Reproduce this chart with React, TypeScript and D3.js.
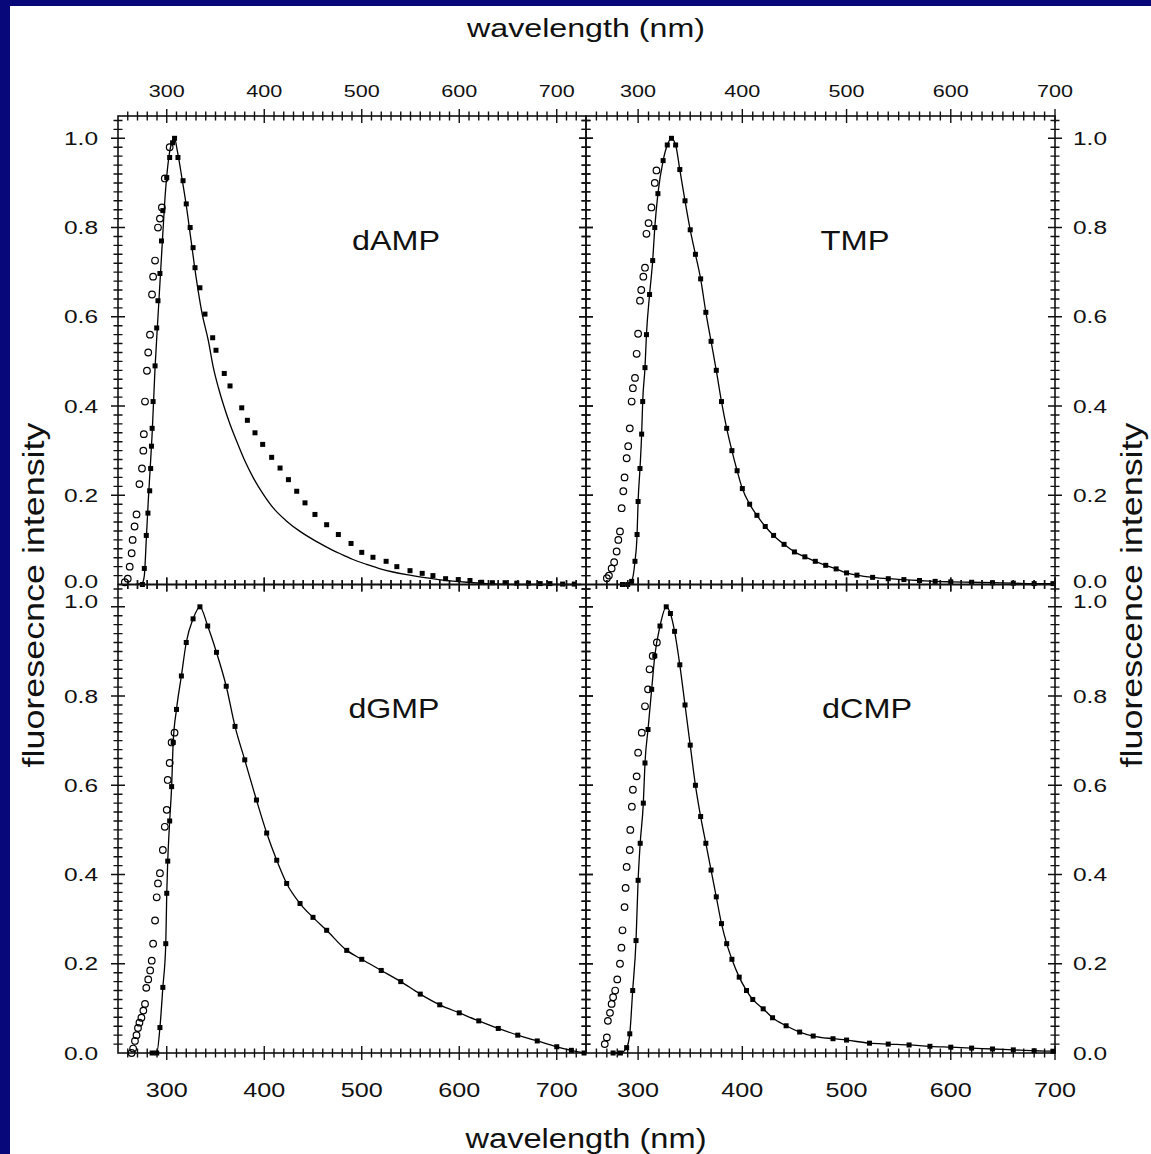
import React from 'react';
import * as d3 from 'd3';

// ---------- data ----------
const panelNames = ['dAMP', 'TMP', 'dGMP', 'dCMP'];
const xTickValues = [300, 400, 500, 600, 700];
const xTickLabels = ['300', '400', '500', '600', '700'];
const yTickValues = [0, 0.2, 0.4, 0.6, 0.8, 1.0];
const yTickLabels = ['0.0', '0.2', '0.4', '0.6', '0.8', '1.0'];
const xAxisTitle = 'wavelength (nm)';
const yAxisTitleLeft = 'fluoresecnce intensity';
const yAxisTitleRight = 'fluorescence intensity';

type P = [number, number];

const dAMPEmission: P[] = [
  [275, 0], [277, 0.036], [279, 0.11], [280.7, 0.16], [282.5, 0.21], [283.5, 0.26], [284.3, 0.31], [285, 0.35],
  [286, 0.41], [288, 0.49], [289.7, 0.575], [291, 0.636], [293, 0.697], [294.6, 0.77], [296, 0.838], [300, 0.912],
  [303, 0.957], [306, 0.99], [308, 1.0], [311.5, 0.957], [316.7, 0.905], [320, 0.853], [324, 0.8], [327, 0.755],
  [329, 0.71], [334, 0.665], [339.2, 0.606], [347.1, 0.553], [350.5, 0.525], [359, 0.473], [364.9, 0.445],
  [376.9, 0.396], [382.7, 0.368], [390.5, 0.34], [398.4, 0.314], [407.6, 0.285], [416.2, 0.261], [424.8, 0.235],
  [433.3, 0.209], [441.8, 0.183], [452, 0.157], [464, 0.134], [476, 0.112], [489, 0.092], [500, 0.072],
  [511.5, 0.061], [525, 0.052], [536, 0.04], [549.5, 0.031], [562, 0.025], [573, 0.02], [586, 0.013], [599, 0.011],
  [611, 0.009], [623, 0.005], [634, 0.004], [647, 0.004], [659, 0.003], [671, 0.003], [683, 0.002], [693, 0.002],
  [706, 0.001], [718, 0.001],
];
const dAMPFit: P[] = [
  [268, 0], [275, 0.004], [277, 0.02], [279, 0.1], [281, 0.186], [283, 0.26], [285, 0.337], [288, 0.486], [291, 0.6],
  [295, 0.75], [298, 0.86], [303, 0.97], [306, 0.995], [308, 1.0], [311, 0.97], [316, 0.905], [320, 0.85], [325, 0.77],
  [330, 0.69], [336, 0.61], [342.7, 0.546], [347.8, 0.486], [353, 0.441], [358, 0.404], [364.9, 0.359], [371.7, 0.321],
  [380.3, 0.276], [388.8, 0.239], [399.1, 0.202], [409.4, 0.171], [423, 0.142], [436.7, 0.119], [453.8, 0.096],
  [470.9, 0.076], [481, 0.066], [491, 0.056], [505, 0.045], [519, 0.035], [532, 0.028], [546, 0.022], [563, 0.016],
  [583, 0.01], [608, 0.005], [628, 0.002], [660, 0.0], [725, 0.0],
];
const dAMPCircles: P[] = [
  [257, 0.005], [260, 0.013], [262, 0.04], [264, 0.07], [265, 0.1], [267, 0.13], [269, 0.157], [272, 0.225],
  [274.6, 0.26], [276, 0.3], [276.5, 0.337], [277.7, 0.41], [279.7, 0.479], [281, 0.52], [282.8, 0.56], [284.9, 0.65],
  [286, 0.69], [288, 0.726], [291, 0.8], [293, 0.82], [295, 0.845], [298, 0.91], [303, 0.98],
];

const TMPEmission: P[] = [
  [285, 0], [290, 0], [293.8, 0.007], [297, 0.052], [299, 0.112], [300, 0.186], [301.8, 0.26], [303.4, 0.337],
  [304.4, 0.41], [306.6, 0.486], [308, 0.56], [311, 0.65], [314, 0.726], [316, 0.8], [319, 0.876], [324, 0.95],
  [328, 0.985], [332, 1.0], [336, 0.985], [340, 0.93], [345, 0.86], [350, 0.795], [355, 0.74], [360, 0.685],
  [365, 0.61], [370, 0.545], [375, 0.48], [380, 0.41], [385, 0.35], [390, 0.3], [395, 0.255], [400, 0.215],
  [407, 0.18], [414, 0.155], [422, 0.13], [430, 0.11], [440, 0.09], [450, 0.073], [460, 0.062], [470, 0.052],
  [480, 0.043], [490, 0.035], [500, 0.026], [510, 0.021], [525, 0.016], [540, 0.013], [555, 0.011], [570, 0.009],
  [585, 0.007], [600, 0.006], [620, 0.005], [640, 0.004], [660, 0.003], [680, 0.002], [698, 0.002],
];
const TMPCircles: P[] = [
  [270, 0.014], [272, 0.02], [274.6, 0.036], [277, 0.05], [279.4, 0.074], [281, 0.1], [282.6, 0.119], [284.2, 0.171],
  [285.8, 0.209], [287, 0.24], [289, 0.283], [290.5, 0.31], [292, 0.35], [293.8, 0.41], [295, 0.44], [297, 0.463],
  [298.6, 0.517], [300, 0.562], [301.8, 0.636], [303, 0.66], [305, 0.69], [306.6, 0.71], [308, 0.786], [310, 0.81],
  [312.8, 0.845], [316, 0.9], [317.6, 0.928],
];

const dGMPEmission: P[] = [
  [285, 0], [289.7, 0], [293, 0.057], [296, 0.147], [299, 0.245], [300, 0.358], [301, 0.43], [303, 0.52],
  [305, 0.597], [306.6, 0.696], [310, 0.77], [315, 0.845], [320, 0.92], [327, 0.973], [334, 1.0], [342, 0.957],
  [351, 0.898], [361, 0.822], [370, 0.732], [380, 0.657], [392, 0.567], [402.5, 0.493], [412.8, 0.432], [423, 0.38],
  [436.7, 0.335], [450, 0.304], [464, 0.275], [484.6, 0.23], [500, 0.21], [520, 0.185], [540, 0.16], [560, 0.132],
  [580, 0.108], [600, 0.09], [620, 0.072], [640, 0.055], [660, 0.04], [680, 0.027], [700, 0.014], [715, 0.006],
  [728, 0],
];
const dGMPCircles: P[] = [
  [264, 0], [265.5, 0.01], [267.4, 0.027], [269, 0.04], [270.5, 0.056], [272, 0.068], [274, 0.079], [276, 0.095],
  [277.7, 0.11], [279, 0.146], [281, 0.165], [283, 0.185], [284.6, 0.207], [286, 0.245], [288, 0.297],
  [289.7, 0.349], [291, 0.38], [293, 0.403], [296, 0.455], [298, 0.507], [300, 0.545], [301, 0.612], [303, 0.65],
  [305, 0.696], [308, 0.718],
];

const dCMPEmission: P[] = [
  [276, 0], [283, 0], [289, 0.012], [292, 0.043], [294.8, 0.14], [298, 0.252], [300, 0.387], [302, 0.47],
  [305, 0.56], [306.6, 0.65], [309.5, 0.725], [313, 0.815], [316, 0.89], [321, 0.957], [327, 1.0], [331, 0.985],
  [335, 0.945], [340, 0.87], [345, 0.78], [350, 0.69], [355, 0.6], [360, 0.53], [365, 0.47], [370, 0.41],
  [375, 0.35], [380, 0.29], [385, 0.245], [390, 0.21], [397, 0.17], [404, 0.14], [410, 0.12], [420, 0.099],
  [429, 0.079], [442, 0.061], [455, 0.047], [468, 0.038], [487, 0.032], [500, 0.029], [522, 0.022], [540, 0.02],
  [560, 0.018], [580, 0.015], [600, 0.013], [620, 0.011], [640, 0.009], [660, 0.007], [680, 0.005], [698, 0.004],
];
const dCMPCircles: P[] = [
  [268, 0.02], [270, 0.035], [271, 0.072], [273, 0.09], [274.6, 0.11], [276, 0.125], [278, 0.14], [280, 0.165],
  [282.6, 0.2], [284, 0.236], [285, 0.275], [287, 0.327], [288, 0.37], [289, 0.417], [292, 0.455], [292.5, 0.5],
  [294, 0.552], [295, 0.59], [298.6, 0.62], [300, 0.673], [303.5, 0.718], [306.6, 0.777], [309.5, 0.815],
  [311, 0.86], [314, 0.89], [318, 0.92],
];

const panelSeries = [
  { emission: dAMPEmission, fit: dAMPFit, circles: dAMPCircles },
  { emission: TMPEmission, fit: TMPEmission, circles: TMPCircles },
  { emission: dGMPEmission, fit: dGMPEmission, circles: dGMPCircles },
  { emission: dCMPEmission, fit: dCMPEmission, circles: dCMPCircles },
];

// ---------- layout ----------
const W = 1151;
const H = 1154;
const FONT = '"Liberation Sans", Arial, Helvetica, sans-serif';
const INK = '#111';

const layouts = [
  { px: [118, 586], py: [584.5, 116], xDomain: [250, 730], top: true, left: true, titleX: 396, titleY: 250, titleW: 88 },
  { px: [586, 1055], py: [584.5, 116], xDomain: [250, 700], top: true, left: false, titleX: 855, titleY: 250, titleW: 69 },
  { px: [118, 586], py: [1053, 584.5], xDomain: [250, 730], top: false, left: true, titleX: 394, titleY: 718, titleW: 91 },
  { px: [586, 1055], py: [1053, 584.5], xDomain: [250, 700], top: false, left: false, titleX: 867, titleY: 718, titleW: 90 },
];

function Panel({ idx }: { idx: number }) {
  const L = layouts[idx];
  const S = panelSeries[idx];
  const x = d3.scaleLinear().domain(L.xDomain).range(L.px);
  const y = d3.scaleLinear().domain([0, 1.05]).range(L.py);
  const [x0, x1] = L.px;
  const [yb, yt] = L.py;

  const xMinor = d3.range(Math.ceil(L.xDomain[0] / 10) * 10 + 10, L.xDomain[1], 10).filter(v => v % 100 !== 0);
  const yMinor = d3.range(1, 53).map(i => +(i * 0.02).toFixed(2)).filter(v => Math.abs(v * 5 - Math.round(v * 5)) > 1e-6);

  const MAJ = 7;
  const MIN = 4.5;
  const segs: string[] = [];
  const addX = (v: number, len: number) => {
    const X = x(v);
    segs.push(`M${X},${yt - len}L${X},${yt + len}`);
    segs.push(`M${X},${yb - len}L${X},${yb + len}`);
  };
  const addY = (v: number, len: number) => {
    const Y = y(v);
    segs.push(`M${x0 - len},${Y}L${x0 + len},${Y}`);
    segs.push(`M${x1 - len},${Y}L${x1 + len},${Y}`);
  };
  xMinor.forEach(v => addX(v, MIN));
  xTickValues.forEach(v => addX(v, MAJ));
  yMinor.forEach(v => addY(v, MIN));
  yTickValues.filter(v => v > 0).forEach(v => addY(v, MAJ));

  const line = d3.line<P>().x(d => x(d[0])).y(d => y(d[1])).curve(d3.curveMonotoneX);

  return (
    <g>
      <rect x={x0} y={yt} width={x1 - x0} height={yb - yt} fill="none" stroke={INK} strokeWidth={1.6} />
      <path d={segs.join('')} stroke={INK} strokeWidth={1.4} fill="none" />
      {/* x tick labels */}
      {L.top
        ? xTickValues.map((v, i) => (
            <text key={'xt' + i} x={x(v)} y={97} fontSize={17} textAnchor="middle" fill={INK}
              textLength={36} lengthAdjust="spacingAndGlyphs" fontFamily={FONT}>{xTickLabels[i]}</text>
          ))
        : xTickValues.map((v, i) => (
            <text key={'xb' + i} x={x(v)} y={1097} fontSize={20} textAnchor="middle" fill={INK}
              textLength={42} lengthAdjust="spacingAndGlyphs" fontFamily={FONT}>{xTickLabels[i]}</text>
          ))}
      {/* y tick labels */}
      {yTickValues.map((v, i) => {
        let base = y(v) + 6.5;
        if (L.top && v === 0) base = y(v) + 3.5;
        if (!L.top && v === 1.0) base = y(v) + 1;
        return (
          <text key={'yt' + i} x={L.left ? 98 : 1073} y={base} fontSize={18}
            textAnchor={L.left ? 'end' : 'start'} fill={INK} textLength={34} lengthAdjust="spacingAndGlyphs"
            fontFamily={FONT}>{yTickLabels[i]}</text>
        );
      })}
      {/* fit line */}
      <path d={line(S.fit) || ''} fill="none" stroke="#000" strokeWidth={1.3} />
      {/* emission dots */}
      {S.emission.map((d, i) => (
        <rect key={'e' + i} x={x(d[0]) - 2.5} y={y(d[1]) - 2.5} width={5} height={5} fill="#000" />
      ))}
      {/* open circles */}
      {S.circles.map((d, i) => (
        <circle key={'c' + i} cx={x(d[0])} cy={y(d[1])} r={3.3} fill="none" stroke="#000" strokeWidth={1.2} />
      ))}
      <text x={L.titleX} y={L.titleY} fontSize={28} textAnchor="middle" fill={INK} textLength={L.titleW}
        lengthAdjust="spacingAndGlyphs" fontFamily={FONT}>{panelNames[idx]}</text>
    </g>
  );
}

export default function App() {
  return (
    <svg width={W} height={H} viewBox={`0 0 ${W} ${H}`}
      style={{ position: 'absolute', left: 0, top: 0, display: 'block' }}>
      <rect x={0} y={0} width={W} height={H} fill="#08087a" />
      <rect x={10} y={6} width={W - 10} height={H - 6} fill="#ffffff" />
      {panelNames.map((_, i) => <Panel key={i} idx={i} />)}
      <text x={586} y={37} fontSize={25} textAnchor="middle" fill={INK} textLength={238}
        lengthAdjust="spacingAndGlyphs" fontFamily={FONT}>{xAxisTitle}</text>
      <text x={586} y={1148} fontSize={27} textAnchor="middle" fill={INK} textLength={241}
        lengthAdjust="spacingAndGlyphs" fontFamily={FONT}>{xAxisTitle}</text>
      <text transform="translate(44,595) rotate(-90)" fontSize={30} textAnchor="middle" fill={INK}
        textLength={345} lengthAdjust="spacingAndGlyphs" fontFamily={FONT}>{yAxisTitleLeft}</text>
      <text transform="translate(1142,595) rotate(-90)" fontSize={30} textAnchor="middle" fill={INK}
        textLength={345} lengthAdjust="spacingAndGlyphs" fontFamily={FONT}>{yAxisTitleRight}</text>
    </svg>
  );
}
